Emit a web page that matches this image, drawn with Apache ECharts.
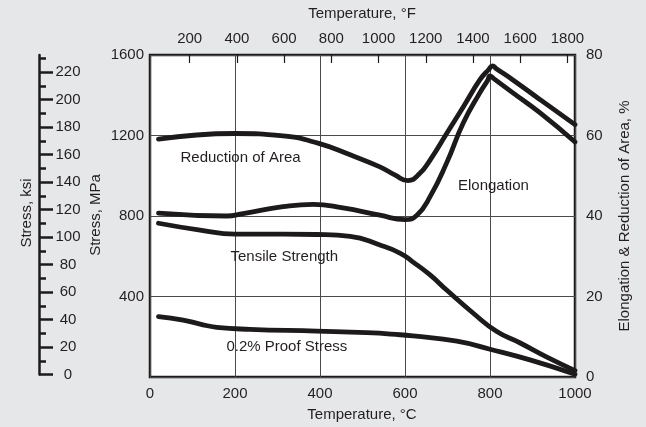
<!DOCTYPE html>
<html>
<head>
<meta charset="utf-8">
<script src="https://cdn.jsdelivr.net/npm/echarts@6/dist/echarts.min.js"></script>
<style>
html,body{margin:0;padding:0;background:#e6e7e9;}
#c{width:646px;height:427px;}
</style>
</head>
<body>
<div id="c"></div>
<script>
// ---- Data ----
const tempRA = [20, 200, 313, 395, 471, 541, 576, 607, 635, 659, 698, 737, 776, 797, 806, 815, 854, 918, 1000];
const reductionOfArea = [59.1, 60.5, 59.9, 58.1, 55.2, 52.2, 50.2, 48.8, 50.6, 53.9, 60.5, 67.1, 73.8, 76.4, 77.3, 76.6, 73.8, 68.9, 62.7];

const tempEL = [20, 180, 219, 313, 384, 454, 541, 600, 628, 659, 698, 737, 776, 794, 800, 808, 854, 918, 1000];
const elongation = [40.7, 40.0, 40.6, 42.3, 42.9, 42.0, 40.2, 39.1, 40.2, 44.8, 53.2, 63.1, 70.6, 73.6, 74.8, 74.2, 70.6, 65.6, 58.4];

const tempTS = [20, 118, 200, 313, 392, 471, 541, 588, 619, 659, 698, 760, 816, 871, 934, 1000];
const tensileStrength = [764, 730, 710, 710, 708, 699, 656, 616, 571, 507, 432, 318, 226, 169, 99, 32];

const tempPS = [20, 78, 118, 157, 235, 392, 510, 588, 619, 722, 800, 894, 1000];
const proofStress = [300, 283, 263, 247, 237, 228, 220, 210, 204, 178, 138, 85, 14];

const fahrenheitTicks = [200, 400, 600, 800, 1000, 1200, 1400, 1600, 1800];
const ksiMajorTicks = [0, 20, 40, 60, 80, 100, 120, 140, 160, 180, 200, 220];
const ksiMinorTicks = [10, 30, 50, 70, 90, 110, 130, 150, 170, 190, 210, 230];

// annotation labels: [text, temperature °C, value]
const labelRA = ['Reduction of Area', 213, 54.4];
const labelEL = ['Elongation', 808, 47.5];
const labelTS = ['Tensile Strength', 316, 596];
const labelPS = ['0.2% Proof Stress', 322, 149];

const FONT = 'Liberation Sans';
const TXT = '#231f20';
const INK = '#1c1a1b';
const plain = v => String(v);

function pairs(xs, ys) { return xs.map((x, i) => [x, ys[i]]); }
function note(l) {
  return {
    symbol: 'circle', symbolSize: 0, silent: true,
    data: [{ coord: [l[1], l[2]], value: l[0] }],
    label: { show: true, position: 'inside', formatter: l[0], color: TXT, fontFamily: FONT, fontSize: 15 }
  };
}
function line(name, data, yIdx, l) {
  return {
    name, type: 'line', xAxisIndex: 0, yAxisIndex: yIdx, data,
    smooth: 0.5, symbol: 'none', z: 5,
    lineStyle: { color: INK, width: 4.8, cap: 'round', join: 'round' },
    markPoint: note(l)
  };
}

const chart = echarts.init(document.getElementById('c'), null, { renderer: 'canvas' });
chart.setOption({
  backgroundColor: '#e6e7e9',
  animation: false,
  textStyle: { fontFamily: FONT },
  grid: [
    { left: 150, right: 71, top: 55, bottom: 50, show: true, backgroundColor: '#ffffff', borderColor: INK, borderWidth: 2.5 },
    { left: 39, width: 1, top: 55, bottom: 52.5, show: false }
  ],
  xAxis: [
    {
      type: 'value', gridIndex: 0, min: 0, max: 1000, interval: 200, position: 'bottom',
      axisLine: { show: false, onZero: false }, axisTick: { show: false },
      axisLabel: { color: TXT, fontSize: 15, margin: 9, formatter: plain },
      splitLine: { show: true, lineStyle: { color: '#4a4a4a', width: 1 } }
    },
    {
      type: 'value', gridIndex: 0, min: 32, max: 1832, position: 'top',
      axisLine: { show: false, onZero: false },
      axisTick: { show: true, inside: true, length: 8, lineStyle: { color: INK, width: 1.2 }, customValues: fahrenheitTicks },
      axisLabel: { color: TXT, fontSize: 15, margin: 9, customValues: fahrenheitTicks, formatter: plain },
      splitLine: { show: false }
    },
    { type: 'value', gridIndex: 1, show: false, min: 0, max: 1 }
  ],
  yAxis: [
    {
      type: 'value', gridIndex: 0, min: 0, max: 1600, interval: 400, position: 'left',
      axisLine: { show: false, onZero: false }, axisTick: { show: false },
      axisLabel: { color: TXT, fontSize: 15, margin: 6, showMinLabel: false, formatter: plain },
      splitLine: { show: true, lineStyle: { color: '#4a4a4a', width: 1 } }
    },
    {
      type: 'value', gridIndex: 0, min: 0, max: 80, interval: 20, position: 'right',
      axisLine: { show: false, onZero: false }, axisTick: { show: false },
      axisLabel: { color: TXT, fontSize: 15, margin: 11, formatter: plain },
      splitLine: { show: false }
    },
    {
      type: 'value', gridIndex: 1, min: 0, max: 232.4, position: 'left',
      axisLine: { show: true, onZero: false, lineStyle: { color: INK, width: 2.5 } },
      axisTick: { show: true, inside: true, length: 14, lineStyle: { color: INK, width: 2.5 }, customValues: ksiMajorTicks },
      axisLabel: { show: true, inside: true, align: 'center', margin: 29, color: TXT, fontSize: 15, customValues: ksiMajorTicks, formatter: plain },
      splitLine: { show: false }
    },
    {
      type: 'value', gridIndex: 1, min: 0, max: 232.4, position: 'left',
      axisLine: { show: false, onZero: false },
      axisTick: { show: true, inside: true, length: 7, lineStyle: { color: INK, width: 2.5 }, customValues: ksiMinorTicks },
      axisLabel: { show: false },
      splitLine: { show: false }
    }
  ],
  graphic: [
    { type: 'text', x: 362, y: 14, style: { text: 'Temperature, °F', font: '15px "Liberation Sans"', fill: TXT, textAlign: 'center', textVerticalAlign: 'middle' } },
    { type: 'text', x: 362, y: 415, style: { text: 'Temperature, °C', font: '15px "Liberation Sans"', fill: TXT, textAlign: 'center', textVerticalAlign: 'middle' } },
    { type: 'text', x: 96, y: 215, rotation: Math.PI / 2, style: { text: 'Stress, MPa', font: '15px "Liberation Sans"', fill: TXT, textAlign: 'center', textVerticalAlign: 'middle' } },
    { type: 'text', x: 27, y: 213, rotation: Math.PI / 2, style: { text: 'Stress, ksi', font: '15px "Liberation Sans"', fill: TXT, textAlign: 'center', textVerticalAlign: 'middle' } },
    { type: 'text', x: 625, y: 216, rotation: Math.PI / 2, style: { text: 'Elongation & Reduction of Area, %', font: '15px "Liberation Sans"', fill: TXT, textAlign: 'center', textVerticalAlign: 'middle' } }
  ],
  series: [
    line('Reduction of Area', pairs(tempRA, reductionOfArea), 1, labelRA),
    line('Elongation', pairs(tempEL, elongation), 1, labelEL),
    line('Tensile Strength', pairs(tempTS, tensileStrength), 0, labelTS),
    line('0.2% Proof Stress', pairs(tempPS, proofStress), 0, labelPS)
  ]
});
</script>
</body>
</html>
